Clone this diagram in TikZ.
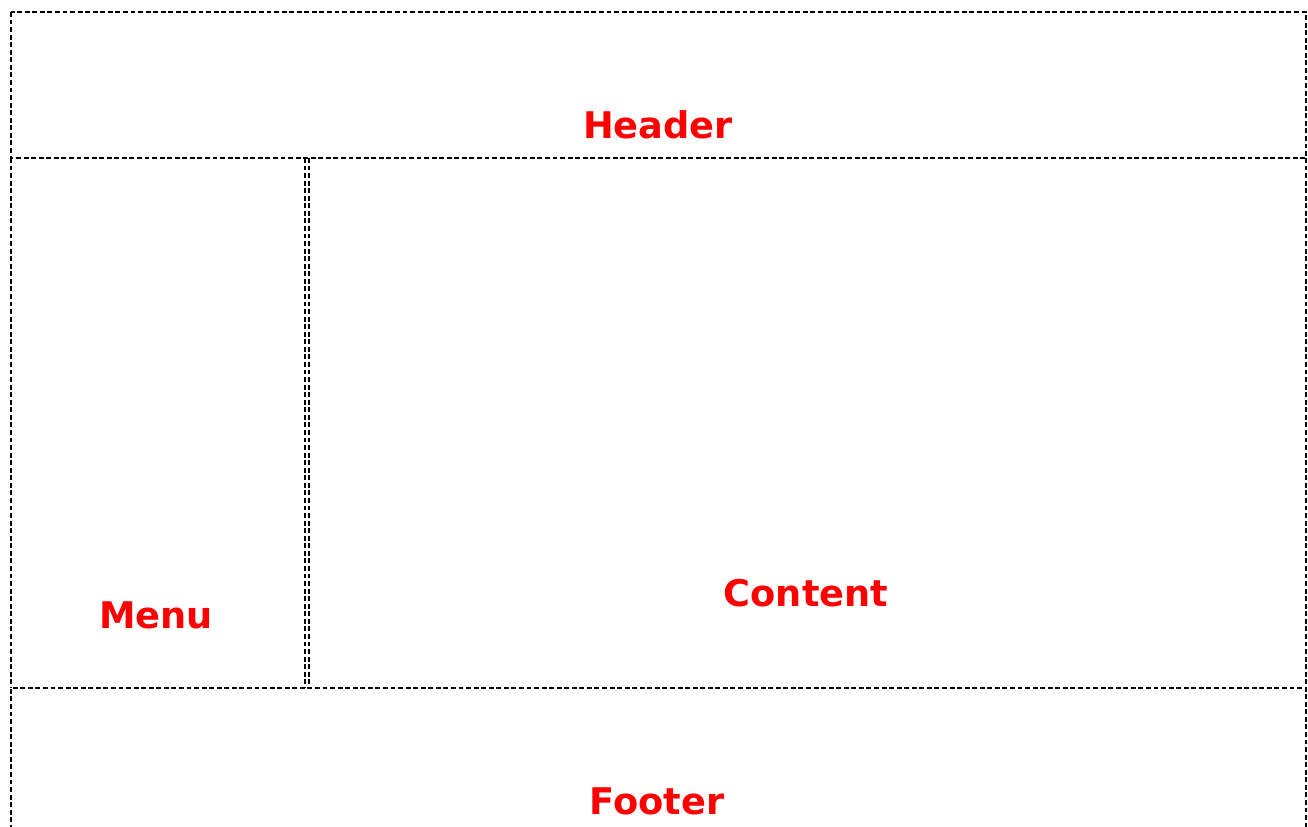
\documentclass[tikz,border=0pt]{standalone}
\usepackage{fontspec}
\setmainfont{DejaVu Sans}
\begin{document}
\begin{tikzpicture}[x=0.02cm, y=-0.02cm, line width=1.1pt, dash pattern=on 2.8pt off 1.5pt]
        \tikzset{boxlabel/.style={text=red, font=\fontsize{20.9}{24}\selectfont\bfseries, inner sep=0pt}}
        \useasboundingbox (0,0) rectangle (1308,827);
        \clip (0,0) rectangle (1308,827);
        % boxes
        \draw (11,12) rectangle (1306,158);   % header
        \draw (11,158) -- (11,688) (305,158) -- (305,688);   % menu
        \draw (309,158) -- (309,688) (1306,158) -- (1306,688); % content
        \draw (11,860) -- (11,688) -- (1306,688) -- (1306,860);  % footer
        % labels
        \node[boxlabel, align=center] (header) at (658,125) {Header};
        \node[boxlabel, align=center] (menu) at (156,615) {Menu};
        \node[boxlabel, align=center] (content) at (806,593) {Content};
        \node[boxlabel, align=center] (footer) at (657,801) {Footer};
    \end{tikzpicture}
\end{document}
